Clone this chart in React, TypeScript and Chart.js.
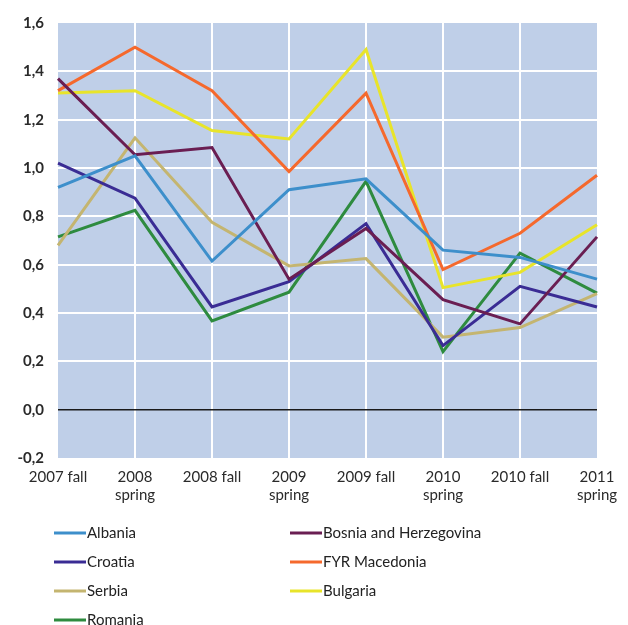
import React, { useEffect, useRef } from "react";
import { Chart, registerables } from "chart.js";

Chart.register(...registerables);

const categories: string[][] = [
  ["2007 fall"],
  ["2008", "spring"],
  ["2008 fall"],
  ["2009", "spring"],
  ["2009 fall"],
  ["2010", "spring"],
  ["2010 fall"],
  ["2011", "spring"],
];

const albania = [0.92, 1.05, 0.615, 0.91, 0.955, 0.66, 0.63, 0.54];
const bosnia = [1.37, 1.055, 1.085, 0.54, 0.75, 0.455, 0.355, 0.715];
const croatia = [1.02, 0.875, 0.425, 0.53, 0.77, 0.265, 0.51, 0.425];
const macedonia = [1.32, 1.5, 1.32, 0.985, 1.31, 0.58, 0.73, 0.97];
const serbia = [0.68, 1.125, 0.775, 0.595, 0.625, 0.3, 0.34, 0.48];
const bulgaria = [1.31, 1.32, 1.155, 1.12, 1.49, 0.505, 0.568, 0.765];
const romania = [0.715, 0.825, 0.367, 0.486, 0.945, 0.24, 0.648, 0.482];

const seriesNames = [
  "Albania",
  "Bosnia and Herzegovina",
  "Croatia",
  "FYR Macedonia",
  "Serbia",
  "Bulgaria",
  "Romania",
];
const seriesValues = [albania, bosnia, croatia, macedonia, serbia, bulgaria, romania];
const seriesColors = ["#3d8fcb", "#6a1e52", "#3a2c94", "#f5692d", "#c4b570", "#e8e42a", "#2e8b3f"];

const yMin = -0.2;
const yMax = 1.6;
const yStep = 0.2;

const FONT = "Lato, 'Open Sans', sans-serif";

export default function App() {
  const ref = useRef<HTMLCanvasElement | null>(null);

  useEffect(() => {
    if (!ref.current) return;
    const bgPlugin = {
      id: "plotBg",
      beforeDraw(chart: any) {
        const { ctx, chartArea } = chart;
        ctx.save();
        ctx.fillStyle = "#bfcfe8";
        ctx.fillRect(chartArea.left, chartArea.top, chartArea.right - chartArea.left, chartArea.bottom - chartArea.top);
        ctx.restore();
      },
    };
    const legendPlugin = {
      id: "gridLegend",
      afterDraw(chart: any) {
        const { ctx } = chart;
        const ds = chart.data.datasets;
        ctx.save();
        ctx.font = "15px " + FONT;
        ctx.textBaseline = "middle";
        ctx.textAlign = "left";
        ds.forEach((d: any, i: number) => {
          const col = i % 2;
          const row = Math.floor(i / 2);
          const x = col === 0 ? 54 : 290;
          const y = 533 + row * 29;
          ctx.strokeStyle = d.borderColor;
          ctx.lineWidth = 3;
          ctx.beginPath();
          ctx.moveTo(x, y);
          ctx.lineTo(x + 32, y);
          ctx.stroke();
          ctx.fillStyle = "#222";
          ctx.fillText(d.label, x + 33, y);
        });
        ctx.restore();
      },
    };

    const chart = new Chart(ref.current, {
      type: "line",
      data: {
        labels: categories,
        datasets: seriesNames.map((name, i) => ({
          label: name,
          data: seriesValues[i],
          borderColor: seriesColors[i],
          backgroundColor: seriesColors[i],
          borderWidth: 3,
          pointRadius: 0,
          tension: 0,
          fill: false,
        })),
      },
      options: {
        responsive: false,
        animation: false,
        layout: { padding: { left: 0, right: 31, top: 18, bottom: 0 } },
        plugins: {
          legend: { display: false },
          tooltip: { enabled: false },
        },
        scales: {
          x: {
            offset: false,
            border: { display: false },
            grid: {
              color: (c: any) =>
                c.index === 0 || c.index === categories.length - 1 ? "rgba(0,0,0,0)" : "#ffffff",
              lineWidth: 2,
              drawTicks: false,
            },
            ticks: {
              color: "#2a2a2a",
              font: { family: FONT, size: 15 },
              padding: 10,
              maxRotation: 0,
              autoSkip: false,
            },
            afterFit(scale: any) {
              scale.height = 167;
            },
          },
          y: {
            min: yMin,
            max: yMax,
            border: { display: false },
            grid: {
              color: (c: any) => {
                const v = c.tick ? c.tick.value : 0;
                if (Math.abs(v) < 1e-9) return "#1a1a1a";
                if (Math.abs(v - yMin) < 1e-9 || Math.abs(v - yMax) < 1e-9) return "rgba(0,0,0,0)";
                return "#ffffff";
              },
              lineWidth: (c: any) => (c.tick && Math.abs(c.tick.value) < 1e-9 ? 1.5 : 2),
              drawTicks: false,
            },
            ticks: {
              stepSize: yStep,
              color: "#2a2a2a",
              font: { family: FONT, size: 15, weight: "bold" },
              padding: 14,
              callback: (v: any) => Number(v).toFixed(1).replace(".", ","),
            },
            afterFit(scale: any) {
              scale.width = 58;
            },
          },
        },
      },
      plugins: [bgPlugin, legendPlugin],
    });
    return () => chart.destroy();
  }, []);

  return (
    <div style={{ position: "absolute", left: 0, top: 0, width: 628, height: 625, background: "#fff" }}>
      <canvas ref={ref} width={628} height={625} style={{ width: 628, height: 625, display: "block" }} />
    </div>
  );
}
